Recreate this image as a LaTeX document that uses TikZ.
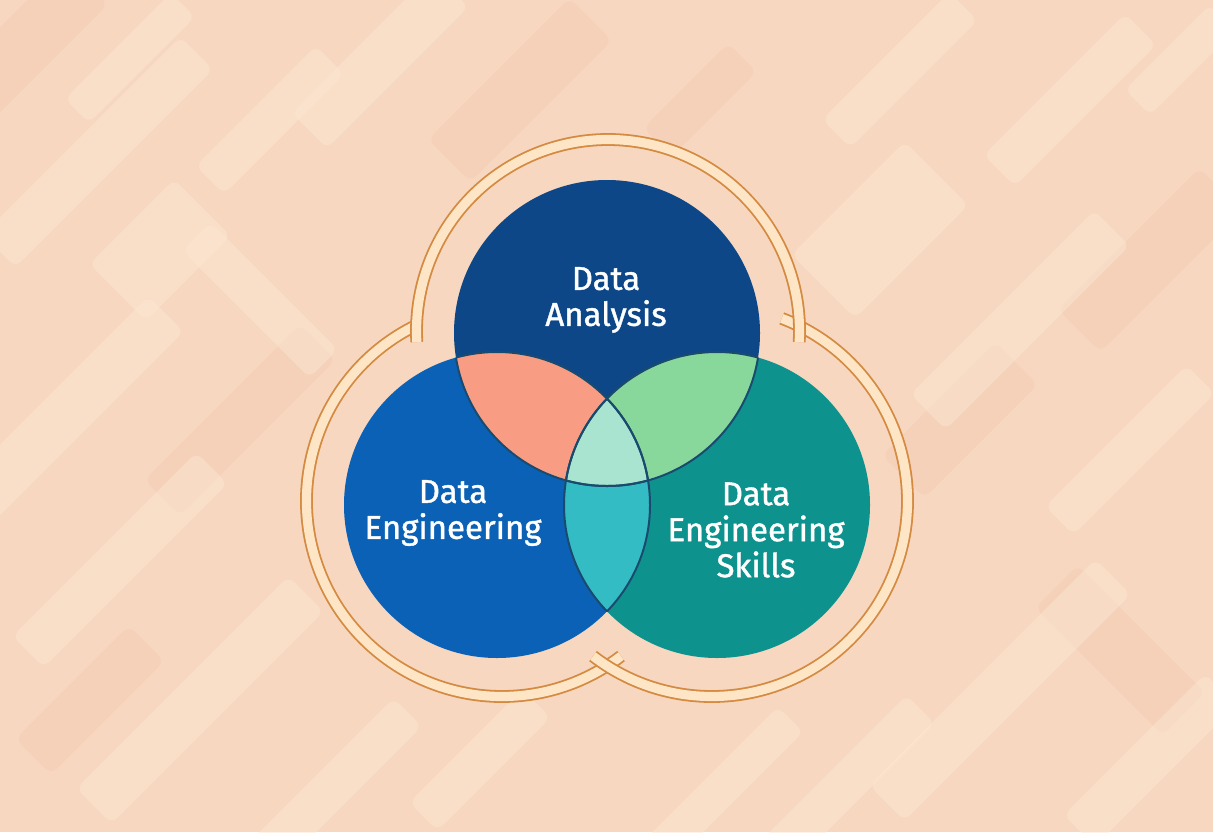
\documentclass[tikz,border=0pt]{standalone}
\usepackage{fontspec}
\setmainfont{Fira Sans}
\newfontfamily\labfont{Fira Sans}[FakeBold=1.2]
\definecolor{bgbase}{HTML}{F7D7C0}
\definecolor{bglight}{HTML}{FBE6D0}
\definecolor{bgdark}{HTML}{F3C6AC}
\definecolor{ringline}{HTML}{D48A40}
\definecolor{ringfill}{HTML}{FDE5C6}
\definecolor{cTop}{HTML}{0D4787}
\definecolor{cLeft}{HTML}{0A61B5}
\definecolor{cRight}{HTML}{0E928E}
\definecolor{cTL}{HTML}{F89D84}
\definecolor{cTR}{HTML}{88D89C}
\definecolor{cLR}{HTML}{34BCC4}
\definecolor{cAll}{HTML}{A8E4D0}
\definecolor{olc}{HTML}{1A4B6E}
\newcommand\bgbar[6]{\fill[#6, rotate around={#5:(#1,{832-#2})}, rounded corners=4pt] ({#1-#3/2},{832-#2-#4/2}) rectangle ({#1+#3/2},{832-#2+#4/2});}
\newcommand\lobe[5]{%
  \draw[ringline, line width=6.4pt] (#1,#2) ++(#4:#3) arc[start angle=#4, end angle=#5, radius=#3];
  \draw[ringfill, line width=4.6pt] (#1,#2) ++(#4:#3) arc[start angle=#4, end angle=#5, radius=#3];}
\begin{document}
\begin{tikzpicture}[x=0.5pt,y=0.5pt,
  L/.style={fill=bglight, fill opacity=0.5},
  D/.style={fill=bgdark, fill opacity=0.35},
  ol/.style={draw=olc, line width=1pt},
  lbl/.style={text=white, align=center, font=\labfont\fontsize{16.5}{18}\selectfont, inner sep=0pt}]
\useasboundingbox (0,0) rectangle (1213,832);
\fill[bgbase] (0,0) rectangle (1213,832);
\begin{scope}
\clip (0,0) rectangle (1213,832);
\bgbar{30}{40}{160}{60}{45}{D}
\bgbar{520}{90}{200}{60}{45}{D}
\bgbar{1150}{260}{200}{60}{45}{D}
\bgbar{1120}{650}{180}{60}{-45}{D}
\bgbar{240}{420}{220}{50}{45}{D}
\bgbar{90}{700}{160}{50}{45}{D}
\bgbar{960}{420}{160}{60}{45}{D}
\bgbar{700}{100}{120}{40}{45}{D}
\bgbar{98}{152}{280}{46}{45}{L}
\bgbar{130}{58}{150}{34}{45}{L}
\bgbar{270}{120}{170}{40}{45}{L}
\bgbar{380}{60}{200}{50}{45}{L}
\bgbar{60}{420}{300}{50}{45}{L}
\bgbar{120}{560}{260}{44}{45}{L}
\bgbar{200}{700}{300}{50}{45}{L}
\bgbar{330}{790}{220}{40}{45}{L}
\bgbar{900}{70}{180}{40}{45}{L}
\bgbar{1070}{100}{200}{44}{45}{L}
\bgbar{1180}{60}{120}{36}{45}{L}
\bgbar{1020}{320}{260}{50}{45}{L}
\bgbar{1130}{450}{200}{40}{45}{L}
\bgbar{1000}{690}{320}{50}{45}{L}
\bgbar{1150}{760}{200}{44}{45}{L}
\bgbar{850}{780}{200}{40}{45}{L}
\bgbar{260}{300}{180}{40}{-45}{L}
\bgbar{880}{230}{160}{90}{45}{L}
\bgbar{160}{250}{120}{80}{45}{L}
\bgbar{480}{760}{160}{40}{45}{L}
\bgbar{720}{790}{200}{36}{45}{L}
\end{scope}
% ring lobes
\lobe{502}{331}{195.5}{114.9}{307.5}
\lobe{712}{331}{195.5}{232.5}{429.1}
\lobe{608}{501}{191.5}{-3.3}{183.3}
% circle centres
\coordinate (cL) at (497,327);
\coordinate (cR) at (717,327);
\coordinate (cT) at (607,499);
\fill[cLeft] (cL) circle[radius=153];
\fill[cRight] (cR) circle[radius=153];
\fill[cTop] (cT) circle[radius=153];
\begin{scope}
\clip (cT) circle[radius=153];
\fill[cTL] (cL) circle[radius=153];
\fill[cTR] (cR) circle[radius=153];
\end{scope}
\begin{scope}
\clip (cL) circle[radius=153];
\fill[cLR] (cR) circle[radius=153];
\end{scope}
\begin{scope}
\clip (cL) circle[radius=153];
\clip (cR) circle[radius=153];
\fill[cAll] (cT) circle[radius=153];
\end{scope}
\begin{scope}
\clip (cT) circle[radius=153];
\draw[ol] (cL) circle[radius=153];
\draw[ol] (cR) circle[radius=153];
\end{scope}
\begin{scope}
\clip (cL) circle[radius=153];
\draw[ol] (cT) circle[radius=153];
\draw[ol] (cR) circle[radius=153];
\end{scope}
\begin{scope}
\clip (cR) circle[radius=153];
\draw[ol] (cT) circle[radius=153];
\draw[ol] (cL) circle[radius=153];
\end{scope}
% labels
\node[lbl] (tA) at (606,532) {Data\\Analysis};
\node[lbl] (tE) at (453,319) {Data\\Engineering};
\node[lbl] (tS) at (756,302) {Data\\Engineering\\Skills};
\end{tikzpicture}
\end{document}
